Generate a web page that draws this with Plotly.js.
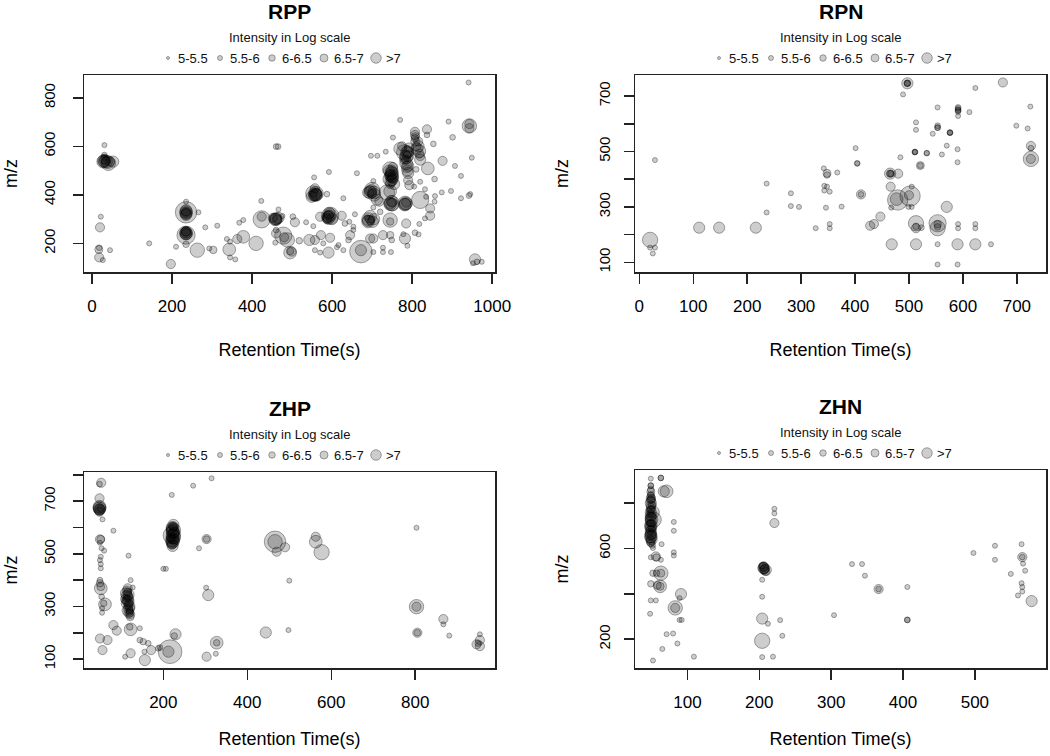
<!DOCTYPE html>
<html>
<head>
<meta charset="utf-8">
<script src="https://cdn.plot.ly/plotly-3.0.1.min.js"></script>
<style>html,body{margin:0;padding:0;background:#fff}#chart{width:1050px;height:756px}</style>
</head>
<body>
<div id="chart"></div>
<script>
// ---------------- DATA ----------------
// RPP: retention time (s), m/z, log10 intensity
const rppRT = [28,41,53,31,31,31,30,22,20,18,17,18,27,45,143,197,210,235,235,235,235,235,266,235,235,235,235,263,283,313,293,303,343,345,358,337,345,363,378,368,378,410,424,424,423,458,466,452,476,466,460,465,458,460,478,488,495,495,460,480,
502,507,535,553,572,595,578,616,641,645,653,557,543,518,499,557,570,591,612,628,672,672,703,727,727,747,695,703,727,745,749,778,782,788,818,832,807,816,845,845,856,835,857,874,897,922,942,945,957,962,974,952,941,770,891,943,943,943,807,807,807,837,837,901,853,752,816,818,820,770,780,790,785,734,697,713,876,949,907,922,745,750,745,755,787,790,790,793,810,839,856,820,832,805,703,662,592,555,553,549,557,560,587,628,700,705,712,737,718,749,749,782,820,703,695,702,720,745,745,785,688,657,643,653,595,593,588,570,624,632,
748,742,752,785,790,775,808,812,820,745,705,690,558,593,600,235,235,30,40,460,595,782,750,705,560,
30,35,45,235,235,235,235,235,458,462,555,560,553,590,592,588,690,695,700,690,695,745,748,750,752,745,748,745,750,782,785,783,788,792,780,810,815,808,818,
748,750,746,785,787,790,788,695,698,560,590,460,235,235,35,745,784,690];
const rppMZ = [537,530,537,564,555,605,545,310,266,182,175,142,131,172,200,115,186,328,337,317,325,372,328,234,248,241,196,172,266,273,179,173,175,142,134,218,207,218,227,285,296,200,299,310,375,299,305,305,313,340,599,599,203,241,232,214,162,168,255,225,
310,287,287,271,234,223,200,193,214,234,255,214,214,211,166,172,162,162,184,172,166,172,164,164,182,164,220,220,234,234,214,238,220,190,280,303,244,237,344,314,372,392,395,410,416,386,397,403,134,124,124,118,863,709,702,684,692,675,660,647,633,670,647,637,610,636,600,580,560,590,575,560,545,578,561,561,540,553,519,478,505,490,465,445,515,490,460,440,505,509,465,454,423,434,457,489,494,472,406,392,427,400,403,386,420,400,380,410,372,365,375,365,379,348,310,289,330,296,290,282,307,320,289,269,314,325,305,310,314,282,
480,500,470,530,575,600,620,590,545,415,410,300,400,310,300,330,240,540,535,300,318,360,360,300,405,
538,540,536,322,330,245,250,238,300,298,398,405,410,310,318,300,410,415,405,292,296,480,500,460,515,445,470,365,368,362,368,560,580,595,545,600,620,640,570,
490,475,455,555,575,520,500,410,420,400,305,300,325,243,537,362,365,290];
const rppLogI = [7.0,7.2,6.8,5.8,6.0,5.6,6.5,5.6,6.5,5.8,6.3,6.5,5.6,5.6,5.6,6.5,5.6,7.9,6.8,6.8,6.5,5.6,5.6,7.6,6.5,6.5,6.0,7.2,5.6,5.6,5.6,6.2,7.0,5.6,5.6,5.6,5.6,6.5,7.0,5.6,5.6,7.2,7.5,6.5,5.6,7.0,6.8,6.5,5.6,5.6,5.8,5.8,5.6,6.5,7.5,7.2,7.0,6.2,5.8,6.5,
5.8,6.5,5.6,5.6,6.5,6.5,5.6,5.6,5.8,6.5,5.6,6.5,6.8,6.0,6.5,5.6,5.6,6.8,5.6,5.6,8.0,6.8,5.6,5.6,5.6,5.6,6.5,6.5,6.5,6.2,5.8,5.6,6.8,5.6,5.6,5.6,5.8,5.6,6.5,6.5,5.6,5.6,5.6,5.6,5.6,5.6,5.8,5.6,6.8,5.8,5.6,5.6,5.6,5.6,5.6,7.2,6.5,6.5,6.5,6.5,6.2,6.5,5.8,5.8,5.8,5.6,6.8,7.0,6.5,7.0,7.3,6.8,6.5,5.6,5.6,5.6,6.5,5.6,5.6,5.6,7.3,7.0,7.2,6.8,6.8,6.8,6.5,6.5,5.8,7.0,5.8,5.6,5.6,5.6,5.6,5.6,5.6,5.6,7.3,6.8,6.5,6.8,5.8,5.6,7.3,7.0,6.8,7.3,6.5,7.3,6.8,7.2,7.5,5.6,7.0,6.8,5.8,7.2,6.2,6.5,5.6,5.6,5.6,5.6,7.5,6.8,6.5,6.5,6.5,5.8,
7.0,6.8,6.8,7.0,6.8,6.5,6.5,6.8,6.8,7.0,7.0,7.0,7.0,7.0,6.8,7.0,7.0,7.0,7.0,7.0,7.0,7.0,7.0,6.8,7.2,
6.8,6.5,6.5,6.8,6.5,6.8,6.5,6.8,6.8,6.5,6.8,6.8,6.5,6.8,6.5,6.5,6.8,6.8,6.5,6.8,6.5,6.8,6.8,6.8,6.5,6.5,6.5,6.8,6.5,6.8,6.5,6.8,6.8,6.5,6.5,6.5,6.5,6.3,6.5,
7.0,7.0,6.8,7.0,7.0,6.8,6.8,7.0,6.8,7.0,7.0,6.8,7.0,7.0,7.0,7.0,7.0,7.0];

// RPN
const rpnRT = [20,20,29,25,29,111,148,216,236,236,281,281,296,327,342,348,348,343,348,343,353,346,353,353,367,375,401,404,404,411,411,428,435,447,465,465,467,480,466,467,479,477,484,489,497,497,497,502,500,505,499,505,468,513,513,513,523,513,513,513,511,511,533,533,521,521,544,553,553,553,561,570,553,553,553,553,553,553,570,576,576,590,590,591,591,591,591,590,590,591,591,612,623,623,623,623,652,674,699,720,725,726,726,726,726,
497,591,591,553,465,511,576];
const rpnMZ = [181,153,153,132,469,225,225,225,384,280,349,303,300,223,439,421,415,376,373,359,355,297,238,223,424,301,512,457,457,345,345,232,238,265,420,420,420,420,373,297,325,328,479,706,746,746,746,339,342,373,300,300,165,241,223,230,225,165,605,578,498,498,494,494,449,449,564,586,593,659,489,521,241,223,238,228,165,92,300,568,568,165,92,659,650,644,628,508,461,238,223,642,729,238,223,165,165,749,593,583,662,520,512,473,473,
746,655,648,586,420,498,568];
const rpnLogI = [7.3,5.6,5.6,5.6,5.6,6.8,6.8,6.8,5.6,5.6,5.6,5.6,5.6,5.6,5.6,6.3,6.0,5.6,5.6,5.6,5.6,5.6,5.6,5.6,5.6,5.6,5.6,5.8,5.6,6.5,5.8,6.5,6.5,6.5,6.8,6.2,6.0,6.5,6.5,5.6,7.8,7.0,5.6,5.6,6.8,6.0,5.8,7.8,6.5,5.6,5.6,5.6,6.8,7.3,6.5,6.0,5.8,6.8,5.6,5.6,5.8,5.6,5.8,5.6,6.3,5.8,5.6,5.8,5.8,5.6,5.6,5.6,7.5,7.3,6.2,6.0,5.6,5.6,6.8,5.8,5.6,6.8,5.6,5.8,5.8,5.8,5.6,5.6,5.6,5.6,5.6,5.6,5.6,5.6,5.6,6.8,5.6,6.5,5.6,5.6,5.6,6.5,5.8,7.3,6.5,
6.0,5.8,5.8,5.8,6.0,5.8,5.8];

// ZHP
const zhpRT = [52,48,48,48,48,48,50,55,81,49,51,49,53,59,51,49,51,51,117,49,49,51,51,53,61,58,54,54,122,115,111,118,113,121,117,121,109,127,115,118,120,81,89,122,120,144,49,67,55,109,122,144,152,164,155,171,156,188,192,216,212,229,226,200,206,220,220,224,224,220,226,222,218,224,271,315,285,303,302,307,303,325,327,327,444,466,466,470,490,498,500,563,563,577,803,803,803,805,805,867,867,881,954,954,946,954,950,
222,224,222,220,226,113,117,119,115,121,48,
48,49,113,116,118,116,120,112,221,223,223,222,224,220,303,
222,223,222,48,115,117];
const zhpMZ = [770,765,711,679,669,660,672,631,588,555,555,542,521,512,489,476,461,445,493,400,388,369,375,337,308,312,293,276,400,369,350,331,312,293,274,261,328,372,355,300,282,229,208,213,222,217,178,172,134,109,122,172,166,160,128,134,96,141,144,128,128,194,188,443,443,724,570,590,610,550,580,530,560,600,759,787,521,556,371,343,109,120,162,162,201,546,546,508,525,210,398,565,546,506,599,299,299,200,200,252,232,189,194,172,156,149,160,
545,565,585,600,555,340,320,300,285,270,675,
668,672,360,340,310,290,275,325,540,560,575,590,605,535,556,
570,550,595,672,320,345];
const zhpLogI = [6.5,5.8,6.5,7.0,6.8,6.5,6.0,5.6,5.6,6.5,6.3,5.6,5.6,5.6,5.6,5.6,5.6,5.6,5.6,5.8,6.2,7.0,6.3,5.8,7.0,6.0,5.6,5.6,5.6,6.5,6.8,6.5,6.8,6.5,6.5,6.3,6.5,5.6,6.3,6.3,6.2,6.5,6.5,7.0,6.0,5.6,6.5,6.5,6.5,5.6,6.5,5.8,6.0,5.8,5.6,6.5,6.8,5.8,5.8,8.1,6.8,6.8,6.0,5.6,5.6,5.6,7.5,7.2,6.8,7.0,6.8,6.8,6.5,6.3,5.6,5.6,5.6,6.5,5.6,6.8,6.5,5.6,7.0,6.0,6.8,7.9,7.2,6.5,6.5,5.6,5.6,6.5,7.0,7.3,5.6,7.2,6.5,6.5,6.0,6.5,5.6,5.6,5.6,6.5,6.5,6.5,6.0,
7.0,7.2,7.0,6.8,6.8,6.8,6.8,6.8,6.8,6.5,7.0,
6.8,6.5,6.5,6.5,6.5,6.5,6.3,6.5,6.8,6.8,6.8,6.8,6.5,6.5,6.0,
7.0,7.0,7.0,7.0,6.8,6.8];

// ZHN
const zhnRT = [49,63,63,49,49,49,49,49,49,51,49,49,49,50,53,49,49,50,49,50,49,49,49,51,67,71,52,64,49,56,57,63,52,57,63,49,62,58,49,56,48,52,65,71,80,81,81,81,81,83,83,91,89,89,92,86,109,206,207,209,204,204,204,204,212,204,204,219,221,221,221,229,232,304,329,343,347,366,366,406,406,406,498,528,528,550,565,566,566,567,570,565,566,566,560,579,
49,49,49,49,49,50,52,50,206,209,
49,49,49,49,49,49,49,49,49,49,49,206,207,63,62,
49,49,49,206];
const zhnMZ = [908,911,911,877,877,859,837,815,800,790,771,755,742,727,727,712,705,690,675,660,653,638,624,615,852,852,602,619,561,565,560,550,491,491,491,444,433,438,371,371,312,106,157,222,225,717,678,583,569,338,338,399,381,285,285,181,123,521,506,499,524,462,387,291,268,193,121,123,775,755,712,284,215,306,531,531,480,421,421,430,285,285,580,612,550,488,619,562,562,533,502,447,430,410,393,368,
820,780,745,700,665,640,760,820,515,505,
850,830,810,790,770,735,720,690,680,650,630,518,510,491,433,
760,700,660,512];
const zhnLogI = [5.6,5.8,5.8,5.8,5.8,6.0,6.0,6.2,6.8,6.3,6.2,6.0,6.5,7.0,7.3,6.3,6.5,6.2,6.8,6.5,7.0,6.5,6.2,6.0,6.8,7.0,5.6,5.6,5.6,6.5,6.2,5.6,6.0,6.0,7.2,6.0,7.0,6.3,5.6,5.6,5.6,5.6,5.6,5.6,5.6,5.6,5.6,5.6,5.6,7.2,6.5,6.8,5.6,5.6,5.6,5.6,5.6,6.5,6.5,6.3,6.0,5.6,5.6,6.8,5.6,7.3,5.6,5.6,5.6,5.6,6.5,5.6,5.6,5.6,5.6,5.6,5.6,6.5,5.8,5.6,5.8,5.8,5.6,5.6,5.6,5.6,5.6,6.5,5.8,5.6,5.6,5.6,5.6,5.6,5.6,6.8,
6.5,6.5,6.8,6.8,6.8,6.8,7.0,6.3,6.8,6.8,
6.3,6.3,6.5,6.5,6.5,6.8,6.8,6.8,6.5,6.8,6.5,6.5,6.5,6.3,6.3,
6.8,7.0,6.8,6.8];

// titles, axis texts and tick labels
const panelTitles = ['RPP', 'RPN', 'ZHP', 'ZHN'];
const xAxisTitle = 'Retention Time(s)';
const yAxisTitle = 'm/z';
const legendTitle = 'Intensity in Log scale';
const legendLabels = ['5-5.5', '5.5-6', '6-6.5', '6.5-7', '>7'];
const rppXTicks = [0, 200, 400, 600, 800, 1000];
const rppYTicks = [200, 400, 600, 800];
const rppYLabels = ['200', '400', '600', '800'];
const rpnXTicks = [0, 100, 200, 300, 400, 500, 600, 700];
const rpnYTicks = [100, 200, 300, 400, 500, 600, 700];
const rpnYLabels = ['100', '', '300', '', '500', '', '700'];
const zhpXTicks = [200, 400, 600, 800];
const zhpYTicks = [100, 200, 300, 400, 500, 600, 700, 800];
const zhpYLabels = ['100', '', '300', '', '500', '', '700', ''];
const zhnXTicks = [100, 200, 300, 400, 500];
const zhnYTicks = [200, 400, 600, 800];
const zhnYLabels = ['200', '', '600', ''];

// ---------------- STYLE / LAYOUT ----------------
const W = 1050, H = 756;
const FONT = 'Liberation Sans, Arial, Helvetica, sans-serif';
const FILL = 'rgba(0,0,0,0.28)';
const EDGE = 'rgba(0,0,0,0.5)';
const legendSizes = [3, 5, 6.5, 8, 10.5];
function markerSize(v) { const d = v - 5.6; return Math.max(3, 5 + 3 * d + 1.8 * d * d); }
const fx = p => p / W;
const fy = p => 1 - p / H;

const panels = [
  {rt: rppRT, mz: rppMZ, li: rppLogI, box: [84, 495, 75, 272], xr: [-20, 1007], yr: [82, 894],
   xt: rppXTicks, yt: rppYTicks, yl: rppYLabels, xso: 28, yls: 12, yso: 18},
  {rt: rpnRT, mz: rpnMZ, li: rpnLogI, box: [635, 1046, 75, 272], xr: [-8, 754], yr: [65, 776],
   xt: rpnXTicks, yt: rpnYTicks, yl: rpnYLabels, xso: 28, yls: 8, yso: 22},
  {rt: zhpRT, mz: zhpMZ, li: zhpLogI, box: [84, 495, 472, 668], xr: [11, 990], yr: [66, 811],
   xt: zhpXTicks, yt: zhpYTicks, yl: zhpYLabels, xso: 21, yls: 12, yso: 18},
  {rt: zhnRT, mz: zhnMZ, li: zhnLogI, box: [635, 1046, 470, 668], xr: [27, 599], yr: [73, 946],
   xt: zhnXTicks, yt: zhnYTicks, yl: zhnYLabels, xso: 21, yls: 8, yso: 22}
];

const data = [];
const layout = {
  width: W, height: H,
  margin: {l: 0, r: 0, t: 0, b: 0},
  paper_bgcolor: '#fff', plot_bgcolor: '#fff',
  showlegend: false,
  font: {family: FONT, color: '#000'},
  annotations: []
};

const pitch = 52;          // px between legend keys
const keyOffset = -17.5;   // px of the middle key from panel centre

panels.forEach((p, i) => {
  const n = i + 1, ln = i + 5;
  const [x0, x1, y0, y1] = p.box;
  const cx = (x0 + x1) / 2;
  const axCommon = {
    showline: true, mirror: true, linecolor: '#222', linewidth: 1.5,
    ticks: 'outside', ticklen: 10, tickwidth: 1.5, tickcolor: '#222',
    showgrid: false, zeroline: false, tickmode: 'array'
  };
  layout['xaxis' + n] = Object.assign({}, axCommon, {
    domain: [fx(x0), fx(x1)], range: p.xr, anchor: 'y' + n,
    tickvals: p.xt, ticktext: p.xt.map(String), ticklabelstandoff: 8,
    tickfont: {size: 17, family: FONT},
    title: {text: xAxisTitle, font: {size: 18, family: FONT}, standoff: p.xso}
  });
  layout['yaxis' + n] = Object.assign({}, axCommon, {
    domain: [fy(y1), fy(y0)], range: p.yr, anchor: 'x' + n,
    tickvals: p.yt, ticktext: p.yl, tickangle: -90, ticklabelstandoff: p.yls,
    tickfont: {size: 15, family: FONT},
    title: {text: yAxisTitle, font: {size: 18, family: FONT}, standoff: p.yso}
  });
  data.push({
    type: 'scatter', mode: 'markers', xaxis: 'x' + n, yaxis: 'y' + n,
    x: p.rt, y: p.mz, hoverinfo: 'skip', showlegend: false,
    marker: {size: p.li.map(markerSize), color: FILL, line: {color: EDGE, width: 1}}
  });

  // legend row on its own hidden axes
  const units = (x1 - x0) / pitch;
  const c = 2 - keyOffset / pitch;
  layout['xaxis' + ln] = {domain: [fx(x0), fx(x1)], range: [c - units / 2, c + units / 2],
    visible: false, fixedrange: true, anchor: 'y' + ln};
  layout['yaxis' + ln] = {domain: [fy(y0 - 12), fy(y0 - 22)], range: [-1, 1],
    visible: false, fixedrange: true, anchor: 'x' + ln};
  data.push({
    type: 'scatter', mode: 'markers', xaxis: 'x' + ln, yaxis: 'y' + ln,
    x: legendLabels.map((_, k) => k), y: legendLabels.map(() => 0),
    hoverinfo: 'skip', showlegend: false, cliponaxis: false,
    marker: {size: legendSizes, color: FILL, line: {color: EDGE, width: 1}}
  });
  legendLabels.forEach((lab, k) => {
    layout.annotations.push({
      xref: 'x' + ln, yref: 'y' + ln, x: k, y: 0, xanchor: 'left', yanchor: 'middle',
      xshift: 8, text: lab.replace('>', '&gt;'), showarrow: false,
      font: {size: 13, family: FONT, color: '#111'}
    });
  });
  // legend title
  layout.annotations.push({
    xref: 'paper', yref: 'paper', x: fx(cx), y: fy(y0 - 37.5), xanchor: 'center', yanchor: 'middle',
    text: legendTitle, showarrow: false, font: {size: 13, family: FONT, color: '#111'}
  });
  // panel title
  layout.annotations.push({
    xref: 'paper', yref: 'paper', x: fx(cx), y: fy(y0 - 63.5), xanchor: 'center', yanchor: 'middle',
    text: '<b>' + panelTitles[i] + '</b>', showarrow: false, font: {size: 21, family: FONT, color: '#000'}
  });
});

Plotly.newPlot('chart', data, layout, {displayModeBar: false, staticPlot: true});
</script>
</body>
</html>
